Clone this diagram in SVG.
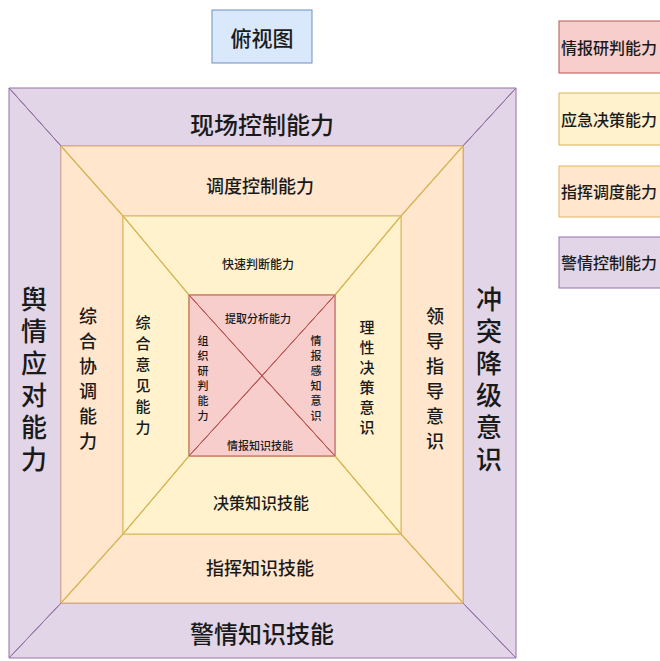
<svg xmlns="http://www.w3.org/2000/svg" width="660" height="661" viewBox="0 0 660 661">
<style>
text{font-family:"Noto Sans CJK SC","Noto Sans",sans-serif;fill:#1a1a1a;text-anchor:middle;dominant-baseline:central;font-weight:500}
.v{writing-mode:vertical-rl;text-orientation:upright}
.pu{fill:#e1d5e7;stroke:#9673a6;stroke-width:1}
.or{fill:#ffe6cc;stroke:#e2b36a;stroke-width:1}
.ye{fill:#fff2cc;stroke:#d6b656;stroke-width:1}
.pk{fill:#f8cecc;stroke:#b85450;stroke-width:1}
.bl{fill:#dae8fc;stroke:#6c8ebf;stroke-width:1}
.diag-p{stroke:#9673a6;stroke-width:1}
.diag-y{stroke:#d6b656;stroke-width:1.2}
.diag-r{stroke:#b85450;stroke-width:1}
.f26{font-size:26px}.f24{font-size:24px}.f18{font-size:18px}.f16{font-size:16px}.f15{font-size:15px}.f12{font-size:12px}.f11{font-size:11px}
.lg{text-anchor:start;font-size:16px}
</style>
<rect width="660" height="661" fill="#ffffff"/>

<g id="title">
<rect class="bl" x="212" y="10" width="100" height="53"/>
<text x="262" y="37" font-size="21">俯视图</text>
</g>

<g id="legend-pink"><rect class="pk" x="559" y="21" width="110" height="52"/><text class="lg" x="561" y="47">情报研判能力</text></g>
<g id="legend-yellow"><rect class="ye" x="559" y="93" width="110" height="52"/><text class="lg" x="561" y="119">应急决策能力</text></g>
<g id="legend-orange"><rect class="or" x="559" y="166" width="110" height="51"/><text class="lg" x="561" y="191">指挥调度能力</text></g>
<g id="legend-purple"><rect class="pu" x="559" y="237" width="110" height="51"/><text class="lg" x="561" y="262">警情控制能力</text></g>

<!-- outer ring -->
<g id="outer-top"><polygon class="pu" points="9,88 516,88 463,146 61,146"/><text class="f24" x="262" y="123">现场控制能力</text></g>
<g id="outer-bottom"><polygon class="pu" points="9,658 61,603 463,603 516,658"/><text class="f24" x="262" y="632">警情知识技能</text></g>
<g id="outer-left"><polygon class="pu" points="9,88 61,146 61,603 9,658"/>
<text class="f26 v" x="34" y="382" letter-spacing="6">舆情应对能力</text></g>
<g id="outer-right"><polygon class="pu" points="516,88 516,658 463,603 463,146"/>
<text class="f26 v" x="489" y="382" letter-spacing="6">冲突降级意识</text></g>

<!-- orange ring -->
<g id="orange-top"><polygon class="or" points="61,146 463,146 401,216 123,216"/><text class="f18" x="260" y="185">调度控制能力</text></g>
<g id="orange-bottom"><polygon class="or" points="61,603 123,534 401,534 463,603"/><text class="f18" x="260" y="567">指挥知识技能</text></g>
<g id="orange-left"><polygon class="or" points="61,146 123,216 123,534 61,603"/>
<text class="f18 v" x="88" y="382" letter-spacing="7">综合协调能力</text></g>
<g id="orange-right"><polygon class="or" points="463,146 463,603 401,534 401,216"/>
<text class="f18 v" x="435" y="382" letter-spacing="7">领导指导意识</text></g>

<!-- yellow ring -->
<g id="yellow-top"><polygon class="ye" points="123,216 401,216 335,295 189,295"/><text class="f12" x="258" y="263">快速判断能力</text></g>
<g id="yellow-bottom"><polygon class="ye" points="123,534 189,456 335,456 401,534"/><text class="f16" x="261" y="502">决策知识技能</text></g>
<g id="yellow-left"><polygon class="ye" points="123,216 189,295 189,456 123,534"/>
<text class="f15 v" x="143" y="378" letter-spacing="6">综合意见能力</text></g>
<g id="yellow-right"><polygon class="ye" points="401,216 401,534 335,456 335,295"/>
<text class="f15 v" x="367" y="380" letter-spacing="5">理性决策意识</text></g>

<!-- pink core -->
<g id="pink-top"><polygon class="pk" points="189,295 335,295 262,376"/><text class="f11" x="258" y="318">提取分析能力</text></g>
<g id="pink-bottom"><polygon class="pk" points="189,456 262,376 335,456"/><text class="f11" x="260" y="445">情报知识技能</text></g>
<g id="pink-left"><polygon class="pk" points="189,295 262,376 189,456"/>
<text class="f11 v" x="203" y="380" letter-spacing="4">组织研判能力</text></g>
<g id="pink-right"><polygon class="pk" points="335,295 335,456 262,376"/>
<text class="f11 v" x="316" y="380" letter-spacing="4">情报感知意识</text></g>

<g id="connectors" fill="none">
<line class="diag-p" x1="9" y1="88" x2="61" y2="146"/>
<line class="diag-p" x1="516" y1="88" x2="463" y2="146"/>
<line class="diag-p" x1="9" y1="658" x2="61" y2="603"/>
<line class="diag-p" x1="516" y1="658" x2="463" y2="603"/>
<line class="diag-y" x1="61" y1="146" x2="123" y2="216"/>
<line class="diag-y" x1="463" y1="146" x2="401" y2="216"/>
<line class="diag-y" x1="61" y1="603" x2="123" y2="534"/>
<line class="diag-y" x1="463" y1="603" x2="401" y2="534"/>
<line class="diag-y" x1="123" y1="216" x2="189" y2="295"/>
<line class="diag-y" x1="401" y1="216" x2="335" y2="295"/>
<line class="diag-y" x1="123" y1="534" x2="189" y2="456"/>
<line class="diag-y" x1="401" y1="534" x2="335" y2="456"/>
<line class="diag-r" x1="189" y1="295" x2="335" y2="456"/>
<line class="diag-r" x1="335" y1="295" x2="189" y2="456"/>
</g>
</svg>
